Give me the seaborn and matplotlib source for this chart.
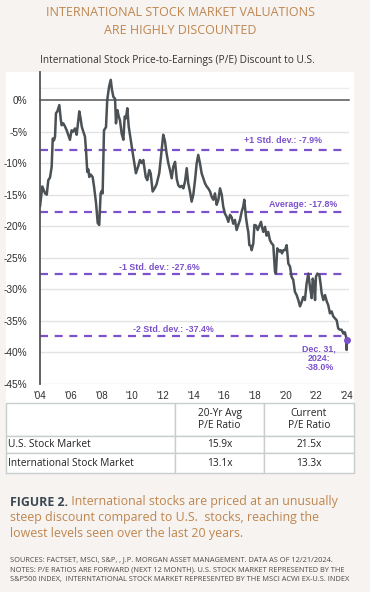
import matplotlib
matplotlib.use("Agg")
import matplotlib.pyplot as plt
import seaborn as sns
from matplotlib.patches import Rectangle

# International P/E discount to U.S. (%)
years = [2004.00, 2004.15, 2004.33, 2004.44, 2004.54, 2004.65, 2004.76, 2004.83, 2004.91, 2004.98,
         2005.04, 2005.13, 2005.26, 2005.35, 2005.41, 2005.52, 2005.63, 2005.74, 2005.84, 2005.95,
         2006.06, 2006.17, 2006.28, 2006.39, 2006.50, 2006.56, 2006.65, 2006.72, 2006.82, 2006.93,
         2007.00, 2007.08, 2007.15, 2007.21, 2007.30, 2007.43, 2007.52, 2007.65, 2007.76, 2007.86,
         2007.95, 2008.02, 2008.08, 2008.17, 2008.30, 2008.38, 2008.50, 2008.61, 2008.69, 2008.78,
         2008.89, 2008.95, 2009.04, 2009.13, 2009.21, 2009.32, 2009.43, 2009.52, 2009.60, 2009.69,
         2009.78, 2009.91, 2010.08, 2010.25, 2010.40, 2010.51, 2010.63, 2010.73, 2010.89, 2010.99,
         2011.12, 2011.21, 2011.34, 2011.49, 2011.60, 2011.77, 2011.86, 2011.95, 2012.03, 2012.14,
         2012.25, 2012.36, 2012.47, 2012.58, 2012.68, 2012.80, 2012.91, 2013.01, 2013.12, 2013.23,
         2013.34, 2013.45, 2013.56, 2013.66, 2013.77, 2013.88, 2013.99, 2014.10, 2014.21, 2014.31,
         2014.42, 2014.53, 2014.64, 2014.75, 2014.86, 2014.96, 2015.08, 2015.18, 2015.29, 2015.40,
         2015.51, 2015.62, 2015.73, 2015.84, 2015.94, 2016.05, 2016.16, 2016.27, 2016.38, 2016.49,
         2016.59, 2016.70, 2016.81, 2016.92, 2017.03, 2017.14, 2017.24, 2017.31, 2017.42, 2017.51,
         2017.57, 2017.64, 2017.73, 2017.79, 2017.90, 2017.97, 2018.08, 2018.18, 2018.30, 2018.40,
         2018.46, 2018.55, 2018.66, 2018.76, 2018.87, 2018.98, 2019.09, 2019.20, 2019.31, 2019.37,
         2019.46, 2019.59, 2019.68, 2019.77, 2019.85, 2019.96, 2020.07, 2020.18, 2020.29, 2020.39,
         2020.50, 2020.61, 2020.72, 2020.83, 2020.94, 2021.05, 2021.15, 2021.26, 2021.37, 2021.48,
         2021.59, 2021.70, 2021.77, 2021.85, 2021.92, 2021.98, 2022.07, 2022.20, 2022.29, 2022.35,
         2022.46, 2022.57, 2022.68, 2022.78, 2022.89, 2023.00, 2023.11, 2023.22, 2023.33, 2023.43,
         2023.54, 2023.65, 2023.76, 2023.86, 2023.95, 2023.98, 2024.00]
discount = [-16.9, -13.7, -14.8, -15.0, -12.7, -12.3, -10.6, -6.1, -6.4, -5.8,
            -2.1, -1.8, -0.8, -3.0, -4.0, -3.7, -4.2, -4.8, -5.5, -6.3,
            -4.8, -5.0, -4.5, -5.5, -3.0, -1.8, -3.0, -4.2, -5.0, -5.8,
            -8.0, -11.4, -11.0, -12.2, -11.8, -12.2, -13.7, -16.3, -19.5, -19.8,
            -14.8, -14.4, -14.8, -4.8, -4.3, 0.0, 2.1, 3.2, 1.6, 0.5,
            0.2, -3.7, -1.6, -2.6, -3.2, -5.3, -6.3, -2.6, -2.9, -1.3,
            -4.2, -6.3, -9.0, -11.6, -10.5, -9.5, -10.0, -9.5, -12.2, -12.7,
            -11.1, -11.6, -14.5, -13.9, -13.3, -11.6, -9.5, -7.3, -5.5, -6.5,
            -8.5, -10.0, -11.1, -12.4, -10.6, -9.8, -12.5, -13.5, -13.8, -13.6,
            -14.0, -12.9, -10.8, -13.2, -14.5, -16.1, -15.0, -12.7, -10.0, -8.7,
            -10.0, -11.6, -12.4, -13.2, -13.7, -14.0, -14.5, -15.3, -15.8, -14.8,
            -16.6, -15.8, -14.0, -15.0, -16.9, -18.0, -18.5, -19.3, -18.2, -18.6,
            -19.6, -19.0, -20.6, -19.8, -19.0, -17.7, -16.9, -15.8, -18.6, -20.1,
            -20.9, -23.0, -23.1, -23.8, -22.7, -19.8, -19.9, -20.6, -19.9, -19.3,
            -20.1, -20.9, -20.1, -21.5, -20.9, -22.2, -22.7, -23.0, -27.2, -27.5,
            -23.5, -24.0, -23.8, -24.3, -23.8, -23.8, -23.0, -25.9, -26.4, -28.0,
            -28.5, -30.4, -30.9, -31.7, -32.7, -32.0, -31.2, -31.7, -29.1, -27.5,
            -29.6, -31.4, -28.3, -29.1, -31.7, -28.0, -27.5, -27.7, -29.3, -30.6,
            -31.7, -30.9, -31.9, -32.5, -33.8, -33.5, -34.3, -34.6, -34.9, -36.2,
            -36.4, -36.4, -37.0, -36.8, -37.6, -39.6, -38.0]

band_values = [-7.9, -17.8, -27.6, -37.4]
band_labels = ["+1 Std. dev.: -7.9%", "Average: -17.8%",
               "-1 Std. dev.: -27.6%", "-2 Std. dev.: -37.4%"]
last_year = 2024.0
last_value = -38.0
last_label = "Dec. 31,\n2024:\n-38.0%"

tick_years = list(range(2004, 2025, 2))
tick_labels = ["'04", "'06", "'08", "'10", "'12", "'14", "'16", "'18", "'20", "'22", "'24"]
y_ticks = list(range(0, -50, -5))

table_header = ["", "20-Yr Avg\nP/E Ratio", "Current\nP/E Ratio"]
markets = ["U.S. Stock Market", "International Stock Market"]
avg_pe = ["15.9x", "13.1x"]
current_pe = ["21.5x", "13.3x"]

BG = "#f6f3f0"
PURPLE = "#7b52cc"
LINE = "#4b5154"
BROWN = "#bf864f"

sns.set_style("white")
plt.rcParams["font.family"] = ["Open Sans", "DejaVu Sans"]

W, H = 370, 592
fig = plt.figure(figsize=(W / 100, H / 100), dpi=100, facecolor=BG)

# full-figure layer in pixel units for the frame, titles and captions
bg = fig.add_axes([0, 0, 1, 1], zorder=0)
bg.set_xlim(0, W)
bg.set_ylim(H, 0)
bg.axis("off")
bg.add_patch(Rectangle((6, 72), 348, 331, facecolor="white", edgecolor="none"))

bg.text(180, 12, "INTERNATIONAL STOCK MARKET VALUATIONS", ha="center", va="center",
        fontsize=9.0, color=BROWN)
bg.text(180, 31, "ARE HIGHLY DISCOUNTED", ha="center", va="center",
        fontsize=9.0, color=BROWN)
bg.text(177, 61, "International Stock Price-to-Earnings (P/E) Discount to U.S.",
        ha="center", va="center", fontsize=7.3, color="#333333")

fig_lbl = bg.text(10, 502, "FIGURE 2.", ha="left", va="center", fontsize=8.9,
                  fontweight="bold", color="#3c4853")
bg.annotate(" International stocks are priced at an unusually", xy=(1, 0.5),
            xycoords=fig_lbl, ha="left", va="center", fontsize=8.9, color=BROWN)
bg.text(10, 518, "steep discount compared to U.S.  stocks, reaching the",
        ha="left", va="center", fontsize=8.9, color=BROWN)
bg.text(10, 534, "lowest levels seen over the last 20 years.",
        ha="left", va="center", fontsize=8.9, color=BROWN)
notes = ["SOURCES: FACTSET, MSCI, S&P, , J.P. MORGAN ASSET MANAGEMENT. DATA AS OF 12/21/2024.",
         "NOTES: P/E RATIOS ARE FORWARD (NEXT 12 MONTH). U.S. STOCK MARKET REPRESENTED BY THE",
         "S&P500 INDEX,  INTERNTATIONAL STOCK MARKET REPRESENTED BY THE MSCI ACWI EX-U.S. INDEX"]
for i, line in enumerate(notes):
    bg.text(10, 560 + i * 10, line, ha="left", va="center", fontsize=5.3, color="#4a4a4a")

# chart
ax = fig.add_axes([40 / W, 1 - 384 / H, 308.5 / W, 312 / H], zorder=2)
ax.patch.set_alpha(0)
for v in y_ticks[1:]:
    ax.axhline(v, color="#e3e3e3", lw=1, zorder=0)
ax.axhline(1.9, color="#ededed", lw=1, zorder=0)
for v in band_values:
    ax.axhline(v, xmax=0.985, color=PURPLE, lw=1.6, dashes=(3.6, 3.0), zorder=1)

sns.lineplot(x=years, y=discount, ax=ax, color=LINE, lw=1.8, estimator=None, zorder=3)
ax.scatter([last_year], [last_value], s=16, color=PURPLE, zorder=4, clip_on=False)

ax.set_xlim(2004, 2024.1)
ax.set_ylim(-45, 4.44)
ax.set_yticks(y_ticks)
ax.set_yticklabels([f"{v}%" for v in y_ticks], fontsize=7.3, color="#2e2e2e",
                   family="Liberation Sans")
ax.tick_params(axis="y", length=0, pad=9)

# zero line carries the year ticks, labels sit at the bottom
for s in ["top", "right"]:
    ax.spines[s].set_visible(False)
ax.spines["left"].set_color("#555555")
ax.spines["left"].set_linewidth(1.3)
ax.spines["bottom"].set_position(("data", 0))
ax.spines["bottom"].set_color("#555555")
ax.spines["bottom"].set_linewidth(1.1)
ax.set_xticks(tick_years)
ax.tick_params(axis="x", direction="out", length=3, width=1, color="#555555",
               labelbottom=False)
sec = ax.secondary_xaxis("bottom")
sec.set_xticks(tick_years)
sec.set_xticklabels(tick_labels, fontsize=7.1, color="#2e2e2e", family="Liberation Sans")
sec.tick_params(length=0, pad=5)
sec.spines["bottom"].set_visible(False)

lbl = dict(color=PURPLE, fontsize=6.4, fontweight="bold", family="Liberation Sans")
ax.text(2022.35, -6.45, band_labels[0], ha="right", va="center", **lbl)
ax.text(2023.35, -16.5, band_labels[1], ha="right", va="center", **lbl)
ax.text(2009.15, -26.5, band_labels[2], ha="left", va="center", **lbl)
ax.text(2010.05, -36.3, band_labels[3], ha="left", va="center", **lbl)
ax.text(2022.2, -40.9, last_label, ha="center", va="center", linespacing=1.05, **lbl)
ax.set_xlabel("")
ax.set_ylabel("")

# table
tax = fig.add_axes([6 / W, 1 - 473 / H, 348 / W, 70 / H], zorder=2)
tax.axis("off")
cells = [table_header] + [[m, a, c] for m, a, c in zip(markets, avg_pe, current_pe)]
tbl = tax.table(cellText=cells, colWidths=[169, 89, 90], bbox=[0, 0, 1, 1],
                cellLoc="center")
tbl.auto_set_font_size(False)
row_h = [33, 17, 20]
for (r, c), cell in tbl.get_celld().items():
    cell.set_height(row_h[r])
    cell.set_edgecolor("#c8cdcd")
    cell.set_linewidth(1)
    cell.set_facecolor("white")
    cell.get_text().set_fontsize(7.3)
    cell.get_text().set_color("#222222")
    if c == 0:
        cell.get_text().set_ha("left")
        cell.PAD = 0.01

fig.savefig("out.png", dpi=100, facecolor=BG)
